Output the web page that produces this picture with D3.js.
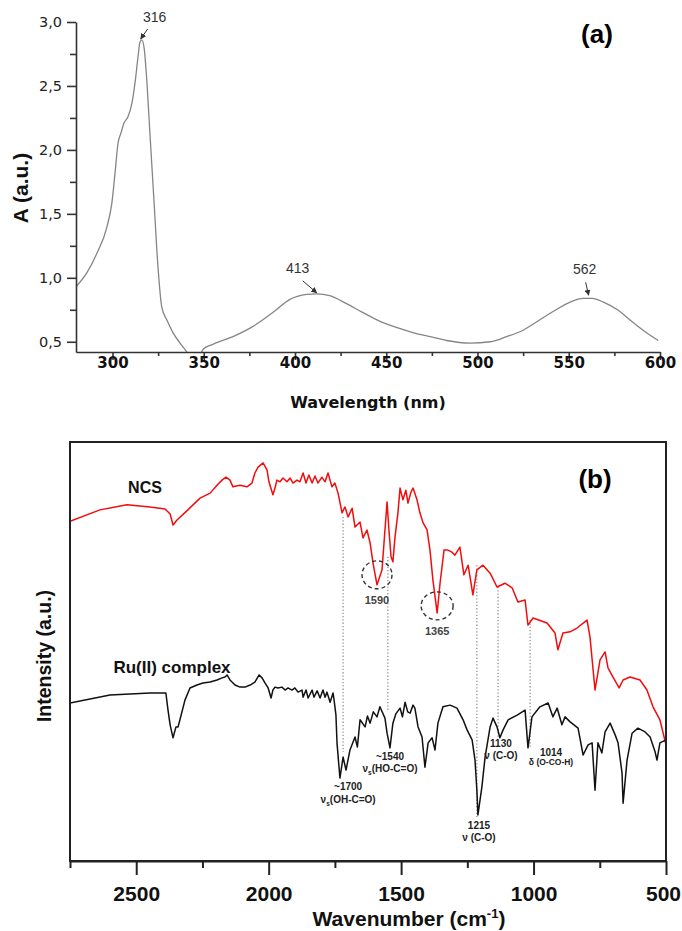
<!DOCTYPE html>
<html>
<head>
<meta charset="utf-8">
<script src="https://cdn.jsdelivr.net/npm/d3@7"></script>
<style>
body { margin: 0; background: #fff; }
svg { display: block; }
</style>
</head>
<body>
<div id="chart-area"></div>
<script>
// (a) UV-Vis absorbance
const uvWavelength = [280, 286, 291.4, 297, 299.7, 301.4, 303, 304.6, 306.3, 308.5, 310.7, 312.3, 314, 315, 316, 317.3, 318.9, 320.5, 322.7, 324.9, 327, 329.8, 333.2, 337, 339.7, 342, 345, 348, 349.6, 355, 366, 377, 388, 397, 406.5, 412, 419, 428, 437, 446.6, 456, 465, 474, 483, 496, 507, 516, 525, 534, 543, 550.7, 557.8, 563, 569, 576.7, 583.6, 590.7, 599]
const uvAbsorbance = [0.93, 1.04, 1.19, 1.40, 1.59, 1.82, 2.05, 2.13, 2.21, 2.26, 2.37, 2.52, 2.73, 2.84, 2.86, 2.80, 2.52, 2.13, 1.61, 1.09, 0.77, 0.67, 0.57, 0.49, 0.44, 0.40, 0.38, 0.40, 0.44, 0.48, 0.54, 0.62, 0.73, 0.83, 0.87, 0.875, 0.86, 0.80, 0.73, 0.66, 0.61, 0.57, 0.54, 0.51, 0.49, 0.50, 0.54, 0.59, 0.67, 0.75, 0.81, 0.84, 0.84, 0.81, 0.75, 0.67, 0.59, 0.51]
const uvPeakNm = [316, 413, 562]
const uvPeakAbs = [2.86, 0.875, 0.84]
const uvXTicks = [300, 350, 400, 450, 500, 550, 600]
const uvXMinor = [325, 375, 425, 475, 525, 575]
const uvYTicks = [0.5, 1.0, 1.5, 2.0, 2.5, 3.0]
const uvYMinor = [0.75, 1.25, 1.75, 2.25, 2.75]

// (b) FTIR, intensity in arbitrary units (0-100)
const ncsWavenumber = [2750, 2637, 2535, 2448, 2391, 2372, 2361, 2346, 2305, 2259, 2221, 2195, 2176, 2161, 2146, 2135, 2108, 2082, 2063, 2052, 2040, 2021, 2006, 1999, 1984, 1976, 1969, 1957, 1946, 1931, 1919, 1908, 1893, 1882, 1870, 1859, 1848, 1836, 1825, 1814, 1799, 1787, 1776, 1761, 1750, 1738, 1723, 1712, 1700, 1685, 1674, 1655, 1644, 1629, 1617, 1606, 1591, 1572, 1561, 1553, 1546, 1538, 1531, 1523, 1512, 1504, 1493, 1482, 1474, 1463, 1455, 1440, 1429, 1417, 1402, 1391, 1380, 1364, 1353, 1338, 1323, 1308, 1297, 1278, 1263, 1247, 1229, 1214, 1191, 1164, 1138, 1108, 1081, 1059, 1032, 1021, 1002, 949, 919, 908, 889, 862, 836, 798, 787, 768, 749, 730, 719, 700, 677, 662, 636, 598, 572, 549, 523, 500]
const ncsIntensity = [81.1, 83.8, 85.0, 84.5, 84.0, 82.8, 80.2, 81.4, 83.8, 86.6, 87.8, 89.7, 90.9, 91.6, 90.9, 89.3, 89.7, 89.3, 90.2, 92.6, 94.0, 95.0, 93.3, 90.5, 87.4, 89.0, 90.9, 90.5, 91.4, 90.5, 91.4, 90.2, 90.9, 90.5, 92.6, 90.2, 92.1, 90.2, 91.9, 90.2, 91.6, 90.5, 92.6, 89.3, 90.2, 87.8, 83.1, 84.5, 82.1, 84.2, 79.7, 80.9, 77.1, 79.0, 75.9, 71.1, 65.9, 69.5, 79.0, 85.7, 79.0, 72.6, 71.4, 77.3, 83.1, 89.0, 86.2, 88.5, 85.4, 88.0, 89.0, 86.2, 83.1, 80.7, 79.0, 74.2, 67.1, 59.2, 66.3, 74.2, 74.2, 73.7, 73.0, 74.9, 68.3, 70.6, 63.5, 69.5, 70.6, 68.7, 65.4, 66.3, 65.2, 61.8, 62.3, 56.3, 58.0, 56.8, 54.4, 50.4, 54.4, 54.7, 55.6, 57.5, 53.5, 40.8, 48.0, 49.9, 46.1, 43.9, 41.3, 43.2, 43.9, 43.2, 40.8, 36.8, 33.7, 27.7]
const ruWavenumber = [2750, 2599, 2448, 2388, 2380, 2372, 2361, 2350, 2342, 2335, 2316, 2297, 2271, 2248, 2221, 2195, 2176, 2165, 2157, 2146, 2127, 2108, 2089, 2070, 2052, 2036, 2025, 2014, 2002, 1991, 1984, 1976, 1965, 1950, 1938, 1927, 1912, 1901, 1889, 1874, 1870, 1859, 1851, 1836, 1829, 1817, 1806, 1795, 1787, 1780, 1768, 1757, 1753, 1746, 1742, 1731, 1719, 1708, 1693, 1674, 1665, 1655, 1636, 1627, 1617, 1605, 1591, 1580, 1561, 1553, 1542, 1531, 1520, 1504, 1495, 1485, 1475, 1466, 1455, 1448, 1436, 1421, 1410, 1398, 1383, 1372, 1361, 1342, 1315, 1289, 1266, 1251, 1232, 1221, 1214, 1210, 1195, 1183, 1164, 1153, 1138, 1127, 1115, 1096, 1062, 1032, 1021, 1006, 976, 945, 927, 911, 893, 881, 862, 832, 813, 794, 779, 768, 757, 742, 730, 711, 692, 681, 666, 662, 647, 628, 606, 579, 560, 541, 534, 523, 500]
const ruIntensity = [37.7, 39.6, 40.1, 40.1, 36.0, 32.5, 29.4, 32.0, 32.0, 33.7, 38.4, 41.3, 42.0, 42.5, 42.7, 43.2, 43.7, 43.9, 44.4, 43.2, 42.0, 41.5, 41.5, 42.0, 42.7, 44.4, 43.7, 42.5, 41.3, 38.9, 40.8, 41.5, 41.3, 41.5, 40.8, 41.3, 40.8, 41.3, 40.3, 40.8, 39.1, 40.8, 38.9, 40.8, 39.1, 40.6, 38.9, 40.8, 39.1, 40.3, 37.9, 40.1, 38.4, 34.8, 28.2, 19.8, 24.8, 21.7, 26.5, 29.6, 27.2, 33.7, 32.0, 34.6, 32.9, 35.6, 34.4, 36.8, 34.1, 30.5, 27.0, 32.9, 35.1, 36.5, 34.4, 37.9, 35.6, 35.3, 37.2, 36.5, 32.0, 29.6, 22.4, 28.2, 29.4, 26.5, 32.9, 36.8, 37.2, 36.5, 33.7, 31.3, 28.9, 24.1, 16.9, 11.0, 17.7, 24.8, 32.0, 34.1, 32.0, 29.4, 31.3, 33.7, 34.8, 36.0, 27.0, 34.4, 36.8, 37.7, 34.4, 36.5, 32.5, 34.4, 33.2, 31.7, 25.3, 27.7, 28.2, 16.9, 28.2, 25.8, 30.8, 32.9, 30.1, 28.2, 21.0, 13.8, 24.1, 30.5, 31.7, 30.8, 29.6, 26.0, 24.1, 28.2, 28.9]
const irXTicks = [2500, 2000, 1500, 1000, 500]
const irXMinor = [2750, 2250, 1750, 1250, 750]

// dotted guide lines joining the two spectra
const bandWavenumber = [1719, 1550, 1214, 1134, 1013]
const bandTop = [82.1, 72.6, 70.6, 65.4, 57.5]
const bandBottom = [26.0, 36.0, 10.5, 29.6, 27.0]

// band labels: [wavenumber, intensity] of the first line
const bandLabels = [
	{ wn: 1700, y: 16.9, l1: "~1700", l2: "ν", sub: "s", l3: "(OH-C=O)", gap: 13 },
	{ wn: 1542, y: 24.1, l1: "~1540", l2: "ν", sub: "s", l3: "(HO-C=O)", gap: 12 },
	{ wn: 1206, y: 7.6, l1: "1215", l2: "ν (C-O)", sub: "", l3: "", gap: 12 },
	{ wn: 1123, y: 27.2, l1: "1130", l2: "ν (C-O)", sub: "", l3: "", gap: 12 },
	{ wn: 934, y: 25.1, l1: "1014", l2: "δ (O-CO-H)", sub: "", l3: "", gap: 9, small: true }
]
const circledBands = [
	{ wn: 1591, y: 68.3, rx: 15, ry: 14, label: "1590", ly: 61.4 },
	{ wn: 1364, y: 60.9, rx: 16, ry: 14, label: "1365", ly: 53.9 }
]

const svg = d3.select("#chart-area").append("svg")
	.attr("width", 682)
	.attr("height", 931)

svg.append("defs").append("marker")
	.attr("id", "arrow")
	.attr("viewBox", "0 0 10 10")
	.attr("refX", 9).attr("refY", 5)
	.attr("markerWidth", 6).attr("markerHeight", 6)
	.attr("orient", "auto")
	.append("path").attr("d", "M0,0L10,5L0,10z").attr("fill", "#333")

// ---------------- panel (a) ----------------
const xA = d3.scaleLinear().domain([280, 600]).range([76, 660])
const yA = d3.scaleLinear().domain([0.42, 3.0]).range([352, 22])
const gA = svg.append("g")

svg.select("defs").append("clipPath").attr("id", "clipA")
	.append("rect")
	.attr("x", xA(280)).attr("y", 0)
	.attr("width", xA(600) - xA(280) + 2).attr("height", yA(0.42))

const uvData = uvWavelength.map((w, i) => ({ w: w, a: uvAbsorbance[i] }))
gA.append("path")
	.datum(uvData)
	.attr("clip-path", "url(#clipA)")
	.attr("fill", "none")
	.attr("stroke", "#858585")
	.attr("stroke-width", 1.3)
	.attr("d", d3.line().x(d => xA(d.w)).y(d => yA(d.a)).curve(d3.curveMonotoneX))

const styleAxis = g => {
	g.selectAll(".domain").attr("stroke", "#333").attr("stroke-width", 1.6)
	g.selectAll(".tick line").attr("stroke", "#333").attr("stroke-width", 1.6)
}

const xAxisA = gA.append("g")
	.attr("transform", `translate(0,${yA(0.42)})`)
	.call(d3.axisBottom(xA).tickValues(uvXTicks).tickSize(8).tickSizeOuter(0).tickFormat(d3.format("d")))
	.call(styleAxis)
xAxisA.selectAll("text")
	.attr("y", 16).attr("dy", null)
	.attr("font-family", "DejaVu Sans").attr("font-weight", "bold").attr("font-size", 15).attr("fill", "#111")
gA.append("g")
	.attr("transform", `translate(0,${yA(0.42)})`)
	.call(d3.axisBottom(xA).tickValues(uvXMinor).tickSize(4).tickFormat(""))
	.call(g => g.select(".domain").remove())
	.call(styleAxis)

const yAxisA = gA.append("g")
	.attr("transform", `translate(${xA(280)},0)`)
	.call(d3.axisLeft(yA).tickValues(uvYTicks).tickSize(9).tickSizeOuter(0)
		.tickFormat(d => d3.format(".1f")(d).replace(".", ",")))
	.call(styleAxis)
yAxisA.selectAll("text")
	.attr("x", -14)
	.attr("font-family", "DejaVu Sans").attr("font-size", 14.5).attr("fill", "#222")
gA.append("g")
	.attr("transform", `translate(${xA(280)},0)`)
	.call(d3.axisLeft(yA).tickValues(uvYMinor).tickSize(6).tickFormat(""))
	.call(g => g.select(".domain").remove())
	.call(styleAxis)

// peak labels with arrows
const peakOffsets = [
	{ tx: 13, ty: -18, ax: 6, ay: -11, bx: -1, by: -1 },
	{ tx: -21, ty: -21, ax: -16, ay: -13, bx: -2, by: -1 },
	{ tx: -6, ty: -24, ax: -5, ay: -16, bx: -2, by: -3 }
]
uvPeakNm.forEach((nm, i) => {
	const px = xA(nm), py = yA(uvPeakAbs[i]), o = peakOffsets[i]
	gA.append("text")
		.attr("x", px + o.tx).attr("y", py + o.ty)
		.attr("text-anchor", "middle")
		.attr("font-family", "Liberation Sans").attr("font-size", 14).attr("fill", "#333")
		.text(nm)
	gA.append("line")
		.attr("x1", px + o.ax).attr("y1", py + o.ay)
		.attr("x2", px + o.bx).attr("y2", py + o.by)
		.attr("stroke", "#333").attr("stroke-width", 1)
		.attr("marker-end", "url(#arrow)")
})

gA.append("text")
	.attr("x", 368).attr("y", 408)
	.attr("text-anchor", "middle")
	.attr("font-family", "DejaVu Sans").attr("font-weight", "bold").attr("font-size", 16).attr("fill", "#111")
	.text("Wavelength (nm)")
gA.append("text")
	.attr("transform", "translate(28,188) rotate(-90)")
	.attr("text-anchor", "middle")
	.attr("font-family", "Liberation Sans").attr("font-weight", "bold").attr("font-size", 21).attr("fill", "#111")
	.text("A (a.u.)")
gA.append("text")
	.attr("x", 597).attr("y", 43)
	.attr("text-anchor", "middle")
	.attr("font-family", "Liberation Sans").attr("font-weight", "bold").attr("font-size", 26).attr("fill", "#000")
	.text("(a)")

// ---------------- panel (b) ----------------
const xB = d3.scaleLinear().domain([2750, 500]).range([70, 666])
const yB = d3.scaleLinear().domain([0, 100]).range([861, 442])
const gB = svg.append("g")

svg.select("defs").append("clipPath").attr("id", "clipB")
	.append("rect")
	.attr("x", xB(2750)).attr("y", yB(100))
	.attr("width", xB(500) - xB(2750)).attr("height", yB(0) - yB(100))

// dotted guides
bandWavenumber.forEach((wn, i) => {
	gB.append("line")
		.attr("x1", xB(wn)).attr("x2", xB(wn))
		.attr("y1", yB(bandTop[i])).attr("y2", yB(bandBottom[i]))
		.attr("stroke", "#8a8a8a").attr("stroke-width", 1.2)
		.attr("stroke-dasharray", "1.3,2")
})

const irLine = d3.line().x(d => xB(d.w)).y(d => yB(d.v))
gB.append("path")
	.datum(ncsWavenumber.map((w, i) => ({ w: w, v: ncsIntensity[i] })))
	.attr("clip-path", "url(#clipB)")
	.attr("fill", "none").attr("stroke", "#f20c0c").attr("stroke-width", 1.5)
	.attr("stroke-linejoin", "round")
	.attr("d", irLine)
gB.append("path")
	.datum(ruWavenumber.map((w, i) => ({ w: w, v: ruIntensity[i] })))
	.attr("clip-path", "url(#clipB)")
	.attr("fill", "none").attr("stroke", "#111").attr("stroke-width", 1.5)
	.attr("stroke-linejoin", "round")
	.attr("d", irLine)

// circled bands
circledBands.forEach(c => {
	gB.append("ellipse")
		.attr("cx", xB(c.wn)).attr("cy", yB(c.y))
		.attr("rx", c.rx).attr("ry", c.ry)
		.attr("fill", "none").attr("stroke", "#333").attr("stroke-width", 1.4)
		.attr("stroke-dasharray", "4,3")
	gB.append("text")
		.attr("x", xB(c.wn)).attr("y", yB(c.ly))
		.attr("text-anchor", "middle")
		.attr("font-family", "Liberation Sans").attr("font-weight", "bold").attr("font-size", 11).attr("fill", "#444")
		.text(c.label)
})

// band assignments
bandLabels.forEach(b => {
	gB.append("text")
		.attr("x", xB(b.wn)).attr("y", yB(b.y))
		.attr("text-anchor", "middle")
		.attr("font-family", "'Liberation Sans Narrow', 'Liberation Sans'").attr("font-weight", "bold")
		.attr("font-size", 10).attr("fill", "#222")
		.text(b.l1)
	const t2 = gB.append("text")
		.attr("x", xB(b.wn)).attr("y", yB(b.y) + b.gap)
		.attr("text-anchor", "middle")
		.attr("font-family", "'Liberation Sans Narrow', 'Liberation Sans'").attr("font-weight", "bold")
		.attr("font-size", b.small ? 8.5 : 10).attr("fill", "#222")
	t2.append("tspan").text(b.l2)
	if (b.sub) {
		t2.append("tspan").attr("font-size", 6.5).attr("dy", 3).text(b.sub)
		t2.append("tspan").attr("dy", -3).text(b.l3)
	}
})

// frame and axis
gB.append("rect")
	.attr("x", xB(2750)).attr("y", yB(100))
	.attr("width", xB(500) - xB(2750)).attr("height", yB(0) - yB(100))
	.attr("fill", "none").attr("stroke", "#222").attr("stroke-width", 2)

const xAxisB = gB.append("g")
	.attr("transform", `translate(0,${yB(0)})`)
	.call(d3.axisBottom(xB).tickValues(irXTicks).tickSize(14).tickSizeOuter(0).tickFormat(d3.format("d")))
	.call(g => g.selectAll(".domain").attr("stroke", "#222").attr("stroke-width", 2))
	.call(g => g.selectAll(".tick line").attr("stroke", "#222").attr("stroke-width", 2))
xAxisB.selectAll("text")
	.attr("y", 40).attr("dy", null)
	.attr("x", d => d === 500 ? -3 : 0)
	.attr("font-family", "Liberation Sans").attr("font-weight", "bold").attr("font-size", 21).attr("fill", "#111")
gB.append("g")
	.attr("transform", `translate(0,${yB(0)})`)
	.call(d3.axisBottom(xB).tickValues(irXMinor).tickSize(7).tickFormat(""))
	.call(g => g.select(".domain").remove())
	.call(g => g.selectAll(".tick line").attr("stroke", "#222").attr("stroke-width", 2))

const titleB = gB.append("text")
	.attr("x", 409).attr("y", 926)
	.attr("text-anchor", "middle")
	.attr("font-family", "Liberation Sans").attr("font-weight", "bold").attr("font-size", 21).attr("fill", "#111")
titleB.append("tspan").text("Wavenumber (cm")
titleB.append("tspan").attr("font-size", 13).attr("dy", -8).text("-1")
titleB.append("tspan").attr("dy", 8).text(")")

gB.append("text")
	.attr("transform", "translate(51,656) rotate(-90)")
	.attr("text-anchor", "middle")
	.attr("font-family", "Liberation Sans").attr("font-weight", "bold").attr("font-size", 19.5).attr("fill", "#111")
	.text("Intensity (a.u.)")

gB.append("text")
	.attr("x", 145).attr("y", 493)
	.attr("text-anchor", "middle")
	.attr("font-family", "Liberation Sans").attr("font-weight", "bold").attr("font-size", 16).attr("fill", "#111")
	.text("NCS")
gB.append("text")
	.attr("x", 172).attr("y", 673)
	.attr("text-anchor", "middle")
	.attr("font-family", "Liberation Sans").attr("font-weight", "bold").attr("font-size", 17).attr("fill", "#111")
	.text("Ru(II) complex")
gB.append("text")
	.attr("x", 595).attr("y", 488)
	.attr("text-anchor", "middle")
	.attr("font-family", "Liberation Sans").attr("font-weight", "bold").attr("font-size", 26).attr("fill", "#000")
	.text("(b)")
</script>
</body>
</html>
